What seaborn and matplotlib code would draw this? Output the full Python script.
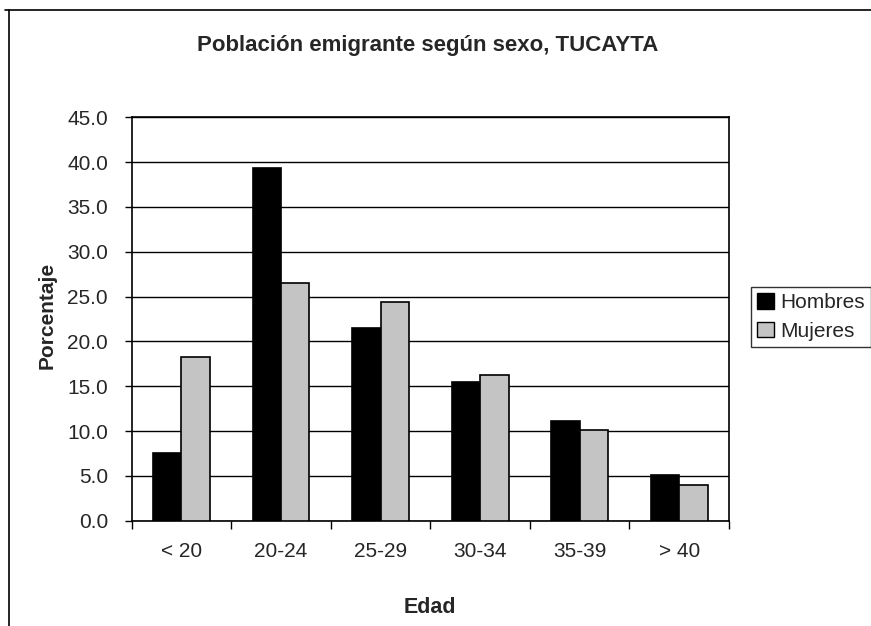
import matplotlib
matplotlib.use("Agg")
import matplotlib.pyplot as plt
import seaborn as sns
import pandas as pd
from matplotlib.lines import Line2D
from matplotlib.patches import Patch

categorias = ["< 20", "20-24", "25-29", "30-34", "35-39", "> 40"]
hombres = [7.5, 39.4, 21.5, 15.5, 11.1, 5.1]
mujeres = [18.3, 26.5, 24.4, 16.2, 10.1, 4.0]
series = ["Hombres", "Mujeres"]
colores = ["#000000", "#c4c4c4"]
yticks = [0, 5, 10, 15, 20, 25, 30, 35, 40, 45]

df = pd.DataFrame({
    "Edad": categorias * 2,
    "Porcentaje": hombres + mujeres,
    "Sexo": [series[0]] * len(categorias) + [series[1]] * len(categorias),
})

sns.set_theme(style="white")
plt.rcParams["font.family"] = ["Liberation Sans", "DejaVu Sans"]

fig = plt.figure(figsize=(8.71, 6.26), dpi=100)
ax = fig.add_axes([0.1512, 0.1682, 0.6858, 0.6444])

sns.barplot(data=df, x="Edad", y="Porcentaje", hue="Sexo", order=categorias,
            hue_order=series, palette=colores, width=0.57, saturation=1,
            edgecolor="black", linewidth=1.2, ax=ax, legend=False, zorder=3)

ax.set_xlim(-0.5, len(categorias) - 0.5)
ax.set_ylim(0, 45)
ax.set_yticks(yticks)
ax.set_yticklabels([f"{v:.1f}" for v in yticks], fontsize=15)
ax.set_xticks(range(len(categorias)))
ax.set_xticklabels(categorias, fontsize=15)
ax.set_xticks([i - 0.5 for i in range(len(categorias) + 1)], minor=True)
ax.tick_params(axis="x", which="major", length=0, pad=15)
ax.tick_params(axis="x", which="minor", length=6, width=1, color="black", direction="out", bottom=True)
ax.tick_params(axis="y", length=5, width=1, color="black", direction="out", left=True, pad=12)

ax.yaxis.grid(True, color="black", linewidth=1)
ax.set_axisbelow(True)
for s in ax.spines.values():
    s.set_visible(True)
    s.set_color("black")
    s.set_linewidth(1.2)

ax.set_xlabel("Edad", fontsize=15.5, fontweight="bold")
ax.xaxis.set_label_coords(0.5, -0.19)
ax.set_ylabel("Porcentaje", fontsize=15, fontweight="bold")
ax.yaxis.set_label_coords(-0.125, 0.51)

fig.text(0.491, 0.928, "Población emigrante según sexo, TUCAYTA", ha="center", va="center",
         fontsize=16, fontweight="bold")

handles = [Patch(facecolor=c, edgecolor="black", linewidth=1) for c in colores]
leg = fig.legend(handles, series, loc="upper left", bbox_to_anchor=(0.862, 0.542),
                 frameon=True, fancybox=False, edgecolor="black", fontsize=15,
                 handlelength=0.8, handleheight=0.8, handletextpad=0.3,
                 borderpad=0.3, labelspacing=0.45, borderaxespad=0)
leg.get_frame().set_linewidth(1)

fig.add_artist(Line2D([5 / 871, 1], [1 - 10 / 626, 1 - 10 / 626], color="black", linewidth=1.2,
                      transform=fig.transFigure))
fig.add_artist(Line2D([9 / 871, 9 / 871], [1 - 10 / 626, 0], color="black", linewidth=1.2,
                      transform=fig.transFigure))

fig.savefig("out.png", dpi=100, facecolor="white")
